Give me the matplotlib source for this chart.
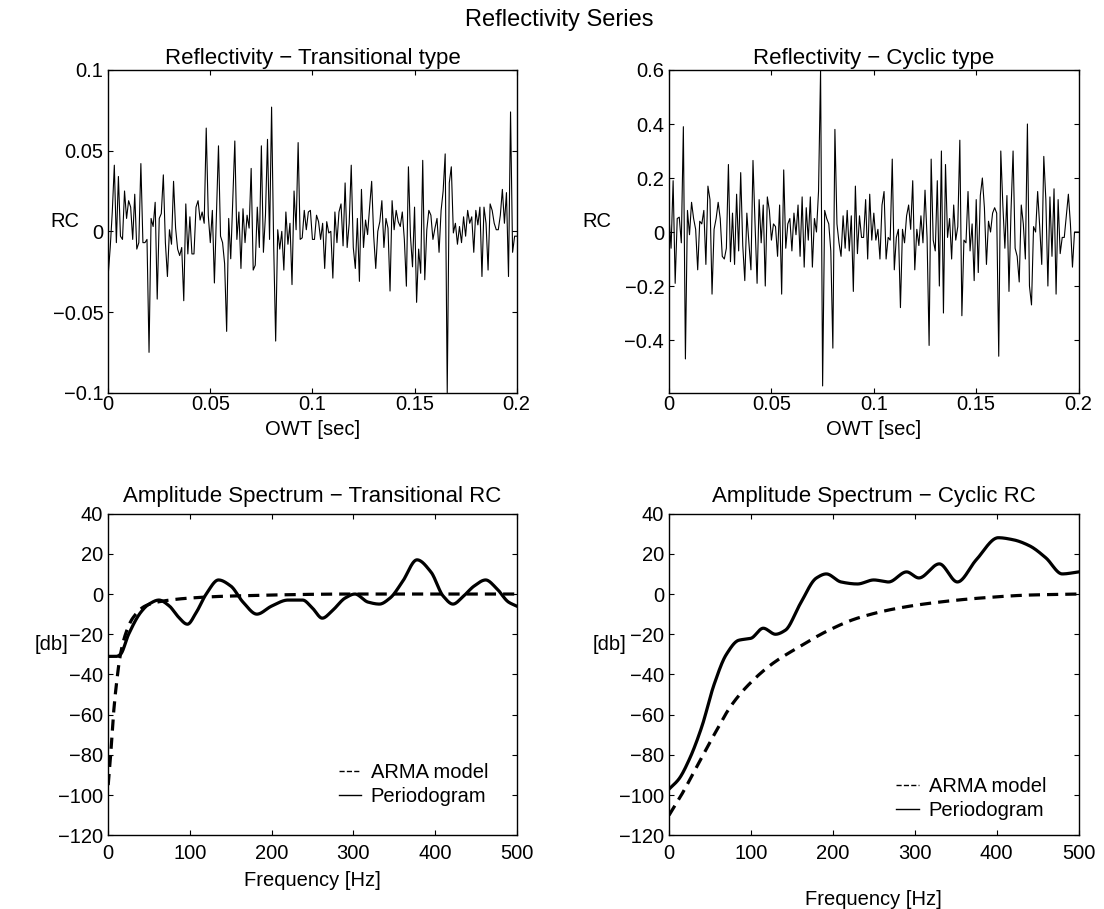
import numpy as np
import matplotlib.pyplot as plt
from matplotlib.lines import Line2D

# reflectivity, 1 ms sampling
owt = np.arange(201) * 0.001
rc_trans = [
    -0.027, -0.010, 0.012, 0.041, -0.007, 0.034, -0.003, -0.005, 0.025, 0.008,
    0.019, 0.015, -0.005, 0.023, -0.011, -0.007, 0.042, -0.007, -0.007, -0.005,
    -0.075, 0.008, 0.003, 0.018, -0.042, 0.008, 0.011, 0.035, -0.007, -0.028,
    0.001, -0.008, 0.031, 0.002, -0.011, -0.015, -0.010, -0.043, 0.017, -0.014,
    0.009, -0.014, -0.014, 0.015, 0.019, 0.007, 0.012, 0.005, 0.064, 0.010,
    -0.007, 0.013, -0.032, 0.010, 0.053, -0.003, -0.007, -0.020, -0.062, 0.008,
    -0.017, 0.020, 0.056, -0.005, 0.012, -0.023, 0.014, -0.007, 0.010, 0.002,
    0.039, -0.024, -0.021, 0.015, -0.010, 0.053, -0.013, 0.010, 0.057, -0.005,
    0.077, -0.007, -0.068, 0.001, -0.011, 0.000, -0.024, 0.012, -0.008, 0.005,
    -0.033, 0.025, 0.001, 0.055, -0.005, -0.004, 0.013, 0.001, 0.012, 0.013,
    -0.005, -0.005, 0.010, 0.006, -0.005, 0.005, -0.023, 0.006, -0.001, 0.000,
    -0.029, 0.012, -0.007, 0.012, 0.017, -0.009, 0.030, -0.010, 0.005, 0.041,
    -0.010, -0.023, 0.008, -0.031, 0.026, -0.010, 0.007, -0.002, 0.015, 0.031,
    -0.003, -0.023, 0.000, 0.006, 0.019, -0.010, 0.008, 0.002, -0.037, 0.019,
    0.001, 0.013, 0.006, 0.003, 0.012, -0.005, -0.034, 0.040, -0.003, -0.022,
    0.015, -0.044, -0.011, -0.026, 0.044, -0.030, 0.001, 0.013, 0.010, -0.005,
    0.002, 0.008, -0.013, 0.013, 0.025, 0.048, -0.100, 0.030, 0.040, -0.001,
    0.005, -0.008, 0.003, -0.007, 0.009, -0.003, 0.013, 0.005, 0.009, -0.013,
    0.013, 0.004, 0.015, -0.028, 0.015, 0.005, -0.024, 0.017, 0.013, 0.005,
    0.001, 0.001, 0.010, 0.026, 0.005, 0.024, -0.028, 0.074, -0.013, -0.003,
    -0.003]
rc_cyc = [
    0.055, -0.06, 0.19, -0.19, 0.05, 0.055, -0.04, 0.39, -0.47, 0.08,
    -0.01, 0.11, 0.05, 0.01, -0.14, 0.04, 0.03, 0.08, -0.12, 0.17,
    0.12, -0.23, 0.01, 0.05, 0.11, 0.05, -0.09, -0.10, -0.06, 0.25,
    -0.11, 0.07, -0.12, 0.14, -0.07, 0.22, -0.05, -0.18, 0.07, -0.04,
    -0.14, 0.265, 0.03, -0.19, 0.12, -0.04, 0.10, -0.20, 0.13, 0.08,
    -0.03, 0.03, 0.02, -0.09, 0.10, -0.23, 0.23, -0.06, 0.03, 0.05,
    -0.07, 0.07, -0.01, 0.10, -0.09, 0.13, -0.13, 0.09, -0.03, 0.13,
    -0.13, 0.05, 0.00, 0.15, 0.60, -0.57, 0.08, 0.05, 0.03, -0.07,
    -0.43, 0.38, 0.03, -0.04, -0.09, 0.06, -0.06, 0.08, -0.07, 0.06,
    -0.22, 0.17, -0.08, 0.06, -0.02, -0.02, 0.12, -0.10, 0.14, -0.03,
    0.07, -0.03, 0.01, -0.10, 0.10, 0.15, -0.10, -0.02, -0.03, 0.27,
    -0.14, -0.02, 0.01, -0.28, 0.01, -0.04, 0.06, 0.10, 0.01, 0.19,
    -0.14, 0.01, -0.05, 0.06, -0.04, 0.155, -0.02, -0.42, 0.27, -0.03,
    -0.07, 0.19, -0.20, 0.30, -0.30, 0.25, -0.02, 0.05, -0.10, 0.10,
    -0.03, 0.02, 0.34, -0.31, -0.03, -0.04, 0.15, -0.07, 0.03, -0.18,
    0.12, -0.15, 0.135, 0.20, 0.09, -0.12, 0.04, 0.00, 0.07, 0.09,
    0.07, -0.46, 0.30, 0.10, -0.06, 0.135, -0.22, 0.08, 0.30, -0.06,
    -0.09, -0.185, 0.10, 0.03, -0.10, 0.40, -0.20, -0.27, 0.02, 0.00,
    0.15, 0.02, -0.12, 0.28, 0.12, -0.20, 0.13, -0.09, 0.16, -0.23,
    0.12, -0.08, -0.02, -0.02, 0.06, 0.14, 0.03, -0.13, 0.00, 0.00,
    0.00]

# amplitude spectra [db], read at a few frequencies
f_per_t = [0, 10, 15, 25, 40, 50, 62, 75, 85, 97, 108, 120, 135, 150, 165, 182,
           200, 220, 238, 250, 262, 275, 290, 302, 318, 332, 345, 360, 378, 395,
           410, 422, 435, 448, 462, 475, 490, 500]
per_t = [-31, -31, -30, -20, -9, -5, -3, -6, -11, -15, -9, 0, 7, 4, -4, -10,
         -6, -3, -3, -7, -12, -8, -2, 0, -4, -5, -2, 6, 17, 11, -1, -5, -1,
         4, 7, 3, -4, -6]
f_arma_t = [0, 3, 6, 10, 15, 22, 30, 45, 60, 100, 150, 300, 500]
arma_t = [-95, -80, -62, -45, -30, -19, -12, -6, -4, -2, -1, 0, 0]

f_per_c = [0, 12, 25, 40, 55, 70, 85, 100, 115, 130, 142, 160, 180, 192, 210,
           230, 250, 268, 290, 305, 330, 352, 375, 402, 420, 440, 460, 480, 500]
per_c = [-97, -92, -82, -66, -45, -30, -23, -22, -17, -20, -18, -5, 8, 10, 6,
         5, 7, 6, 11, 8, 15, 6, 17, 28, 27, 24, 18, 10, 11]
f_arma_c = [0, 15, 35, 55, 75, 95, 125, 160, 195, 230, 280, 330, 380, 440, 500]
arma_c = [-110, -100, -85, -70, -56, -46, -35, -26, -18, -12, -7, -4, -2, -0.5, 0]


def pchip(x, y, n=800):
    # monotone cubic through the read points
    x = np.asarray(x, float)
    y = np.asarray(y, float)
    h = np.diff(x)
    d = np.diff(y) / h
    m = np.zeros_like(y)
    m[0], m[-1] = d[0], d[-1]
    for k in range(1, len(x) - 1):
        if d[k - 1] * d[k] > 0:
            w1 = 2 * h[k] + h[k - 1]
            w2 = h[k] + 2 * h[k - 1]
            m[k] = (w1 + w2) / (w1 / d[k - 1] + w2 / d[k])
    xx = np.linspace(x[0], x[-1], n)
    i = np.clip(np.searchsorted(x, xx) - 1, 0, len(x) - 2)
    t = (xx - x[i]) / h[i]
    h00 = 2 * t**3 - 3 * t**2 + 1
    h10 = t**3 - 2 * t**2 + t
    h01 = -2 * t**3 + 3 * t**2
    h11 = t**3 - t**2
    yy = h00 * y[i] + h10 * h[i] * m[i] + h01 * y[i + 1] + h11 * h[i] * m[i + 1]
    return xx, yy


def minus(labels):
    return [s.replace('-', '\u2212') for s in labels]


plt.rcParams['font.family'] = ['Liberation Sans', 'DejaVu Sans']
plt.rcParams['font.size'] = 14.5
plt.rcParams['xtick.direction'] = 'in'
plt.rcParams['ytick.direction'] = 'in'
plt.rcParams['xtick.top'] = True
plt.rcParams['ytick.right'] = True
plt.rcParams['axes.linewidth'] = 1.0

fig = plt.figure(figsize=(11.04, 9.09), dpi=100)
fig.suptitle('Reflectivity Series', fontsize=17, x=0.507, y=0.99)

axes = [fig.add_axes([0.098, 0.568, 0.370, 0.355]),
        fig.add_axes([0.606, 0.568, 0.371, 0.355]),
        fig.add_axes([0.098, 0.081, 0.370, 0.354]),
        fig.add_axes([0.606, 0.081, 0.371, 0.354])]

xt = [0, 0.05, 0.1, 0.15, 0.2]
xtl = ['0', '0.05', '0.1', '0.15', '0.2']

ax = axes[0]
ax.plot(owt, rc_trans, color='black', lw=0.8)
ax.set_xlim(0, 0.2)
ax.set_ylim(-0.1, 0.1)
ax.set_xticks(xt)
ax.set_xticklabels(xtl)
ax.set_yticks([-0.1, -0.05, 0, 0.05, 0.1])
ax.set_yticklabels(minus(['-0.1', '-0.05', '0', '0.05', '0.1']))
ax.set_title('Reflectivity \u2212 Transitional type', fontsize=16, pad=4)
ax.set_xlabel('OWT [sec]', labelpad=4)
ax.set_ylabel('RC', rotation=0)
ax.yaxis.set_label_coords(-0.105, 0.5)

ax = axes[1]
ax.plot(owt, rc_cyc, color='black', lw=0.8)
ax.set_xlim(0, 0.2)
ax.set_ylim(-0.595, 0.6)
ax.set_xticks(xt)
ax.set_xticklabels(xtl)
ax.set_yticks([-0.4, -0.2, 0, 0.2, 0.4, 0.6])
ax.set_yticklabels(minus(['-0.4', '-0.2', '0', '0.2', '0.4', '0.6']))
ax.set_title('Reflectivity \u2212 Cyclic type', fontsize=16, pad=4)
ax.set_xlabel('OWT [sec]', labelpad=4)
ax.set_ylabel('RC', rotation=0)
ax.yaxis.set_label_coords(-0.176, 0.5)

for ax in axes[:2]:
    ax.tick_params(axis='x', pad=2)

specs = [(axes[2], f_per_t, per_t, f_arma_t, arma_t,
          'Amplitude Spectrum \u2212 Transitional RC', 0.157, 0.975, 6),
         (axes[3], f_per_c, per_c, f_arma_c, arma_c,
          'Amplitude Spectrum \u2212 Cyclic RC', 0.114, 0.965, 20)]
for ax, fp, p, fa, a, title, ly, lx, lpad in specs:
    xs, ys = pchip(fp, p)
    ax.plot(xs, ys, color='black', lw=2.3)
    xa, ya = pchip(fa, a)
    ax.plot(xa, ya, color='black', lw=2.3, ls=(0, (3.5, 2.2)))
    ax.set_xlim(0, 500)
    ax.set_ylim(-120, 40)
    ax.set_xticks(range(0, 501, 100))
    ax.set_yticks(range(-120, 41, 20))
    ax.set_yticklabels(minus([str(v) for v in range(-120, 41, 20)]))
    ax.tick_params(axis='x', pad=6)
    ax.set_title(title, fontsize=16, pad=8)
    ax.set_xlabel('Frequency [Hz]', labelpad=lpad)
    ax.set_ylabel('[db]', rotation=0)
    handles = [Line2D([], [], color='black', lw=1, ls='--'),
               Line2D([], [], color='black', lw=1, ls='-')]
    ax.legend(handles, ['ARMA model', 'Periodogram'], loc='center right',
              bbox_to_anchor=(lx, ly), frameon=False, handlelength=1.1,
              handletextpad=0.5, labelspacing=0.25, fontsize=14.5)

axes[2].yaxis.set_label_coords(-0.14, 0.5625)
axes[3].yaxis.set_label_coords(-0.145, 0.5625)

fig.savefig('out.png', dpi=100)
